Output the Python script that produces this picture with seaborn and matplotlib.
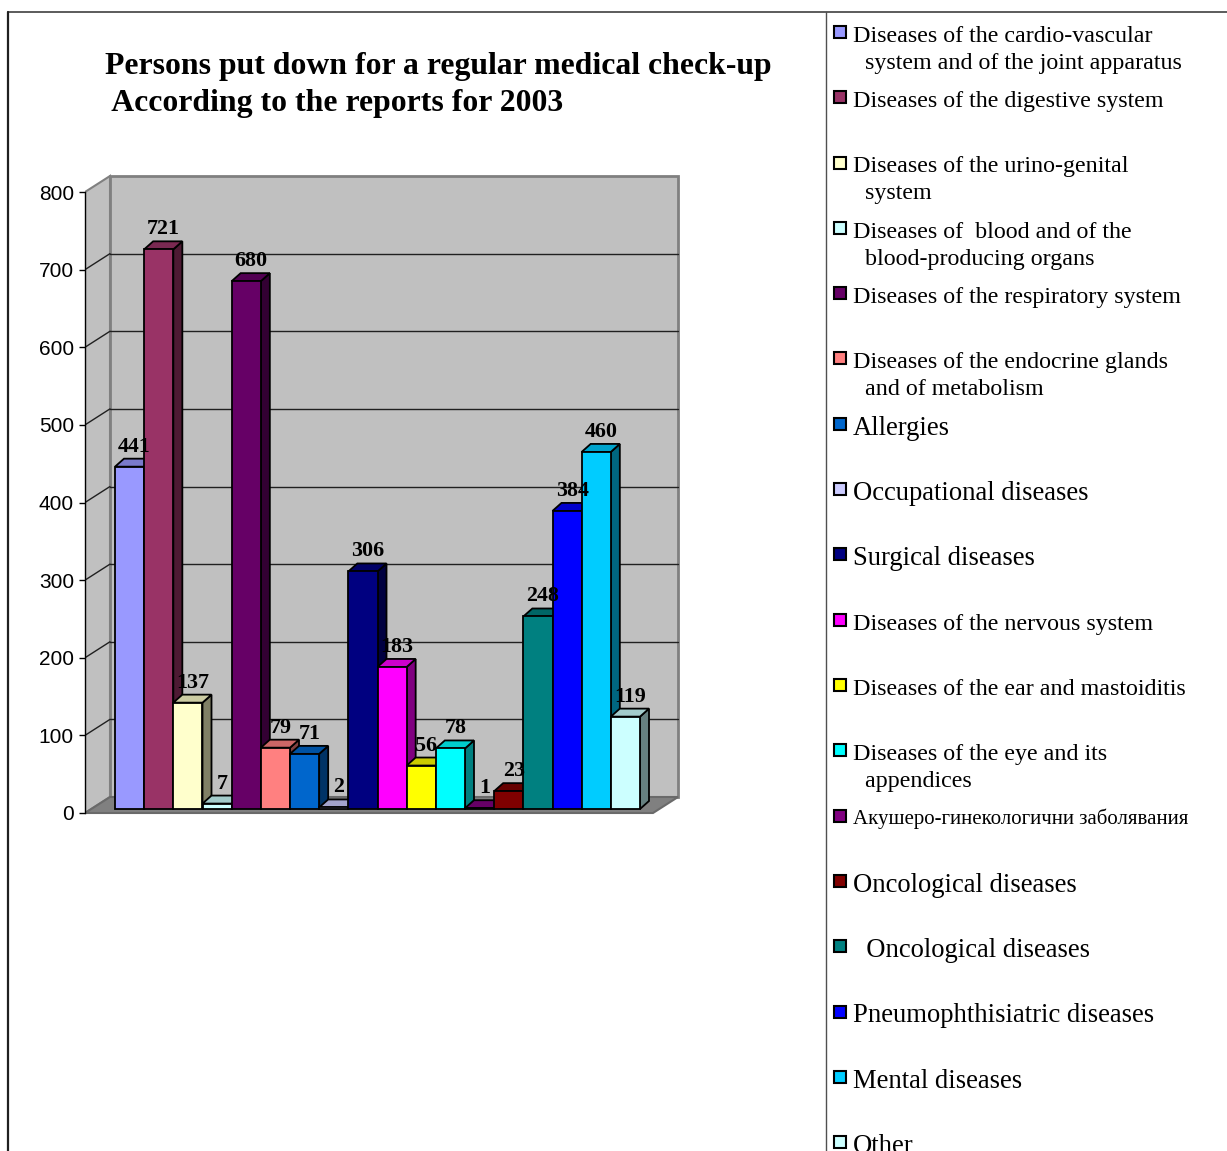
import matplotlib
matplotlib.use("Agg")
import matplotlib.pyplot as plt
import seaborn as sns
import pandas as pd
from matplotlib.patches import Polygon, Rectangle
from matplotlib.lines import Line2D
from matplotlib import transforms
from matplotlib.colors import to_rgb

# ---------------- data ----------------
categories = [
    "Diseases of the cardio-vascular\n  system and of the joint apparatus",
    "Diseases of the digestive system",
    "Diseases of the urino-genital\n  system",
    "Diseases of  blood and of the\n  blood-producing organs",
    "Diseases of the respiratory system",
    "Diseases of the endocrine glands\n  and of metabolism",
    "Allergies",
    "Occupational diseases",
    "Surgical diseases",
    "Diseases of the nervous system",
    "Diseases of the ear and mastoiditis",
    "Diseases of the eye and its\n  appendices",
    "Акушеро-гинекологични заболявания",
    "Oncological diseases",
    "  Oncological diseases",
    "Pneumophthisiatric diseases",
    "Mental diseases",
    "Other",
]
values = [441, 721, 137, 7, 680, 79, 71, 2, 306, 183, 56, 78, 1, 23, 248, 384, 460, 119]
colors = ["#9999FF", "#993366", "#FFFFCC", "#CCFFFF", "#660066", "#FF8080",
          "#0066CC", "#CCCCFF", "#000080", "#FF00FF", "#FFFF00", "#00FFFF",
          "#800080", "#800000", "#008080", "#0000FF", "#00CCFF", "#CCFFFF"]
legend_sizes = [17.3] * 6 + [19.2] * 3 + [17.3] * 3 + [15.0] + [19.2] * 5
yticks = [0, 100, 200, 300, 400, 500, 600, 700, 800]
title_lines = ["Persons put down for a regular medical check-up",
               " According to the reports for 2003"]

df = pd.DataFrame({"group": ["2003"] * len(values),
                   "category": categories, "value": values})

# ---------------- figure ----------------
W, H = 1227, 1151
sns.set_style("white")
plt.rcParams["font.family"] = ["Liberation Serif", "DejaVu Serif"]
plt.rcParams["text.color"] = "black"
plt.rcParams["axes.labelcolor"] = "black"
plt.rcParams["xtick.color"] = "black"
plt.rcParams["ytick.color"] = "black"
fig = plt.figure(figsize=(W / 100, H / 100), dpi=100)

ppx = 525 / 0.8          # pixels per x unit
ppy = 621 / 800          # pixels per y unit
x_left = -0.4 - 24 / ppx
ax_w_px = 605
x_right = x_left + ax_w_px / ppx
y_bot, y_top = -8, 830
ax_bottom_px = 813 + (-y_bot) * ppy
ax_top_px = 813 - y_top * ppy
ax = fig.add_axes([85 / W, 1 - ax_bottom_px / H, ax_w_px / W,
                   (ax_bottom_px - ax_top_px) / H])
ax.set_xlim(x_left, x_right)
ax.set_ylim(y_bot, y_top)
ax.patch.set_alpha(0)

# walls / floor
Dx, Dy = 25 / ppx, 16 / ppy
x0 = x_left
x1 = x_left + (653 - 85) / ppx
wall = "#C0C0C0"
ax.add_patch(Polygon([(x0, 0), (x0 + Dx, Dy), (x0 + Dx, 800 + Dy), (x0, 800)],
                     closed=True, fc=wall, ec="#808080", lw=1.5, zorder=1))
ax.add_patch(Rectangle((x0 + Dx, Dy), x1 - x0, 800, fc=wall, ec="#808080",
                       lw=2, zorder=1))
ax.add_patch(Polygon([(x0, 0), (x1, 0), (x1 + Dx, Dy), (x0 + Dx, Dy)],
                     closed=True, fc="#808080", ec="#6a6a6a", lw=1.5, zorder=2))
for v in yticks[1:-1]:
    ax.add_line(Line2D([x0 + Dx, x1 + Dx], [v + Dy, v + Dy], color="#202020",
                       lw=1, zorder=2))
    ax.add_line(Line2D([x0, x0 + Dx], [v, v + Dy], color="#202020", lw=1,
                       zorder=2))

# bars
sns.barplot(data=df, x="group", y="value", hue="category",
            hue_order=categories, palette=colors, saturation=1, width=0.8,
            dodge=True, edgecolor="black", linewidth=1.3, legend=False,
            ax=ax, native_scale=False)
ax.set_xlim(x_left, x_right)
ax.set_ylim(y_bot, y_top)

off = transforms.ScaledTranslation(6 / 100, 4 / 100, fig.dpi_scale_trans)
btrans = ax.transData + off
ddx, ddy = 9 / ppx, 8 / ppy


def shade(c, f):
    r, g, b = to_rgb(c)
    return (r * f, g * f, b * f)


for i, cont in enumerate(ax.containers):
    for bar in cont:
        x, w, h = bar.get_x(), bar.get_width(), bar.get_height()
        col = colors[i]
        z = 10 + 3 * i
        bar.set_transform(btrans)
        bar.set_zorder(z + 2)
        ax.add_patch(Polygon([(x + w, 0), (x + w + ddx, ddy), (x + w + ddx, h + ddy),
                              (x + w, h)], closed=True, fc=shade(col, 0.5),
                             ec="black", lw=1.3, transform=btrans, zorder=z))
        ax.add_patch(Polygon([(x, h), (x + w, h), (x + w + ddx, h + ddy),
                              (x + ddx, h + ddy)], closed=True, fc=shade(col, 0.8),
                             ec="black", lw=1.3, transform=btrans, zorder=z + 1))
        ax.text(x + w / 2 + 5 / ppx, h + ddy + 7 / ppy, f"{h:.0f}",
                transform=btrans, ha="center", va="baseline", fontsize=15.8,
                fontweight="bold", color="black", zorder=200)

# axes styling
for s in ["top", "right", "bottom"]:
    ax.spines[s].set_visible(False)
ax.spines["left"].set_bounds(0, 800)
ax.spines["left"].set_color("black")
ax.spines["left"].set_linewidth(1)
ax.spines["left"].set_zorder(3)
ax.set_xticks([])
ax.set_yticks(yticks)
ax.set_yticklabels([str(t) for t in yticks], family="Liberation Sans")
ax.tick_params(axis="y", direction="out", length=4, width=1, labelsize=15,
               pad=4, colors="black", left=True)
ax.set_xlabel("")
ax.set_ylabel("")

# title
fig.text(105 / W, 1 - 74 / H, title_lines[0], fontsize=22.9, fontweight="bold",
         ha="left", va="baseline", color="black")
fig.text(105 / W, 1 - 111 / H, title_lines[1], fontsize=22.9, fontweight="bold",
         ha="left", va="baseline", color="black")

# chart borders
fig.add_artist(Line2D([8 / W, 1], [1 - 12 / H, 1 - 12 / H], color="#404040",
                      lw=1.2, transform=fig.transFigure))
fig.add_artist(Line2D([8 / W, 8 / W], [1 - 12 / H, 0], color="#202020",
                      lw=1.6, transform=fig.transFigure))
fig.add_artist(Line2D([826 / W, 826 / W], [1 - 12 / H, 0], color="#505050",
                      lw=1.0, transform=fig.transFigure))

# legend
for i, lab in enumerate(categories):
    yc = 32 + 65.3 * i
    sz = legend_sizes[i]
    em = sz * 100 / 72
    fig.add_artist(Rectangle((834 / W, 1 - (yc + 6) / H), 12 / W, 12 / H,
                             transform=fig.transFigure, fc=colors[i],
                             ec="black", lw=1.5))
    base = yc + 0.41 * em
    for k, line in enumerate(lab.split("\n")):
        fig.text(853 / W, 1 - (base + k * 1.12 * em) / H, line, fontsize=sz,
                 ha="left", va="baseline", color="black")

fig.savefig("out.png", dpi=100)
